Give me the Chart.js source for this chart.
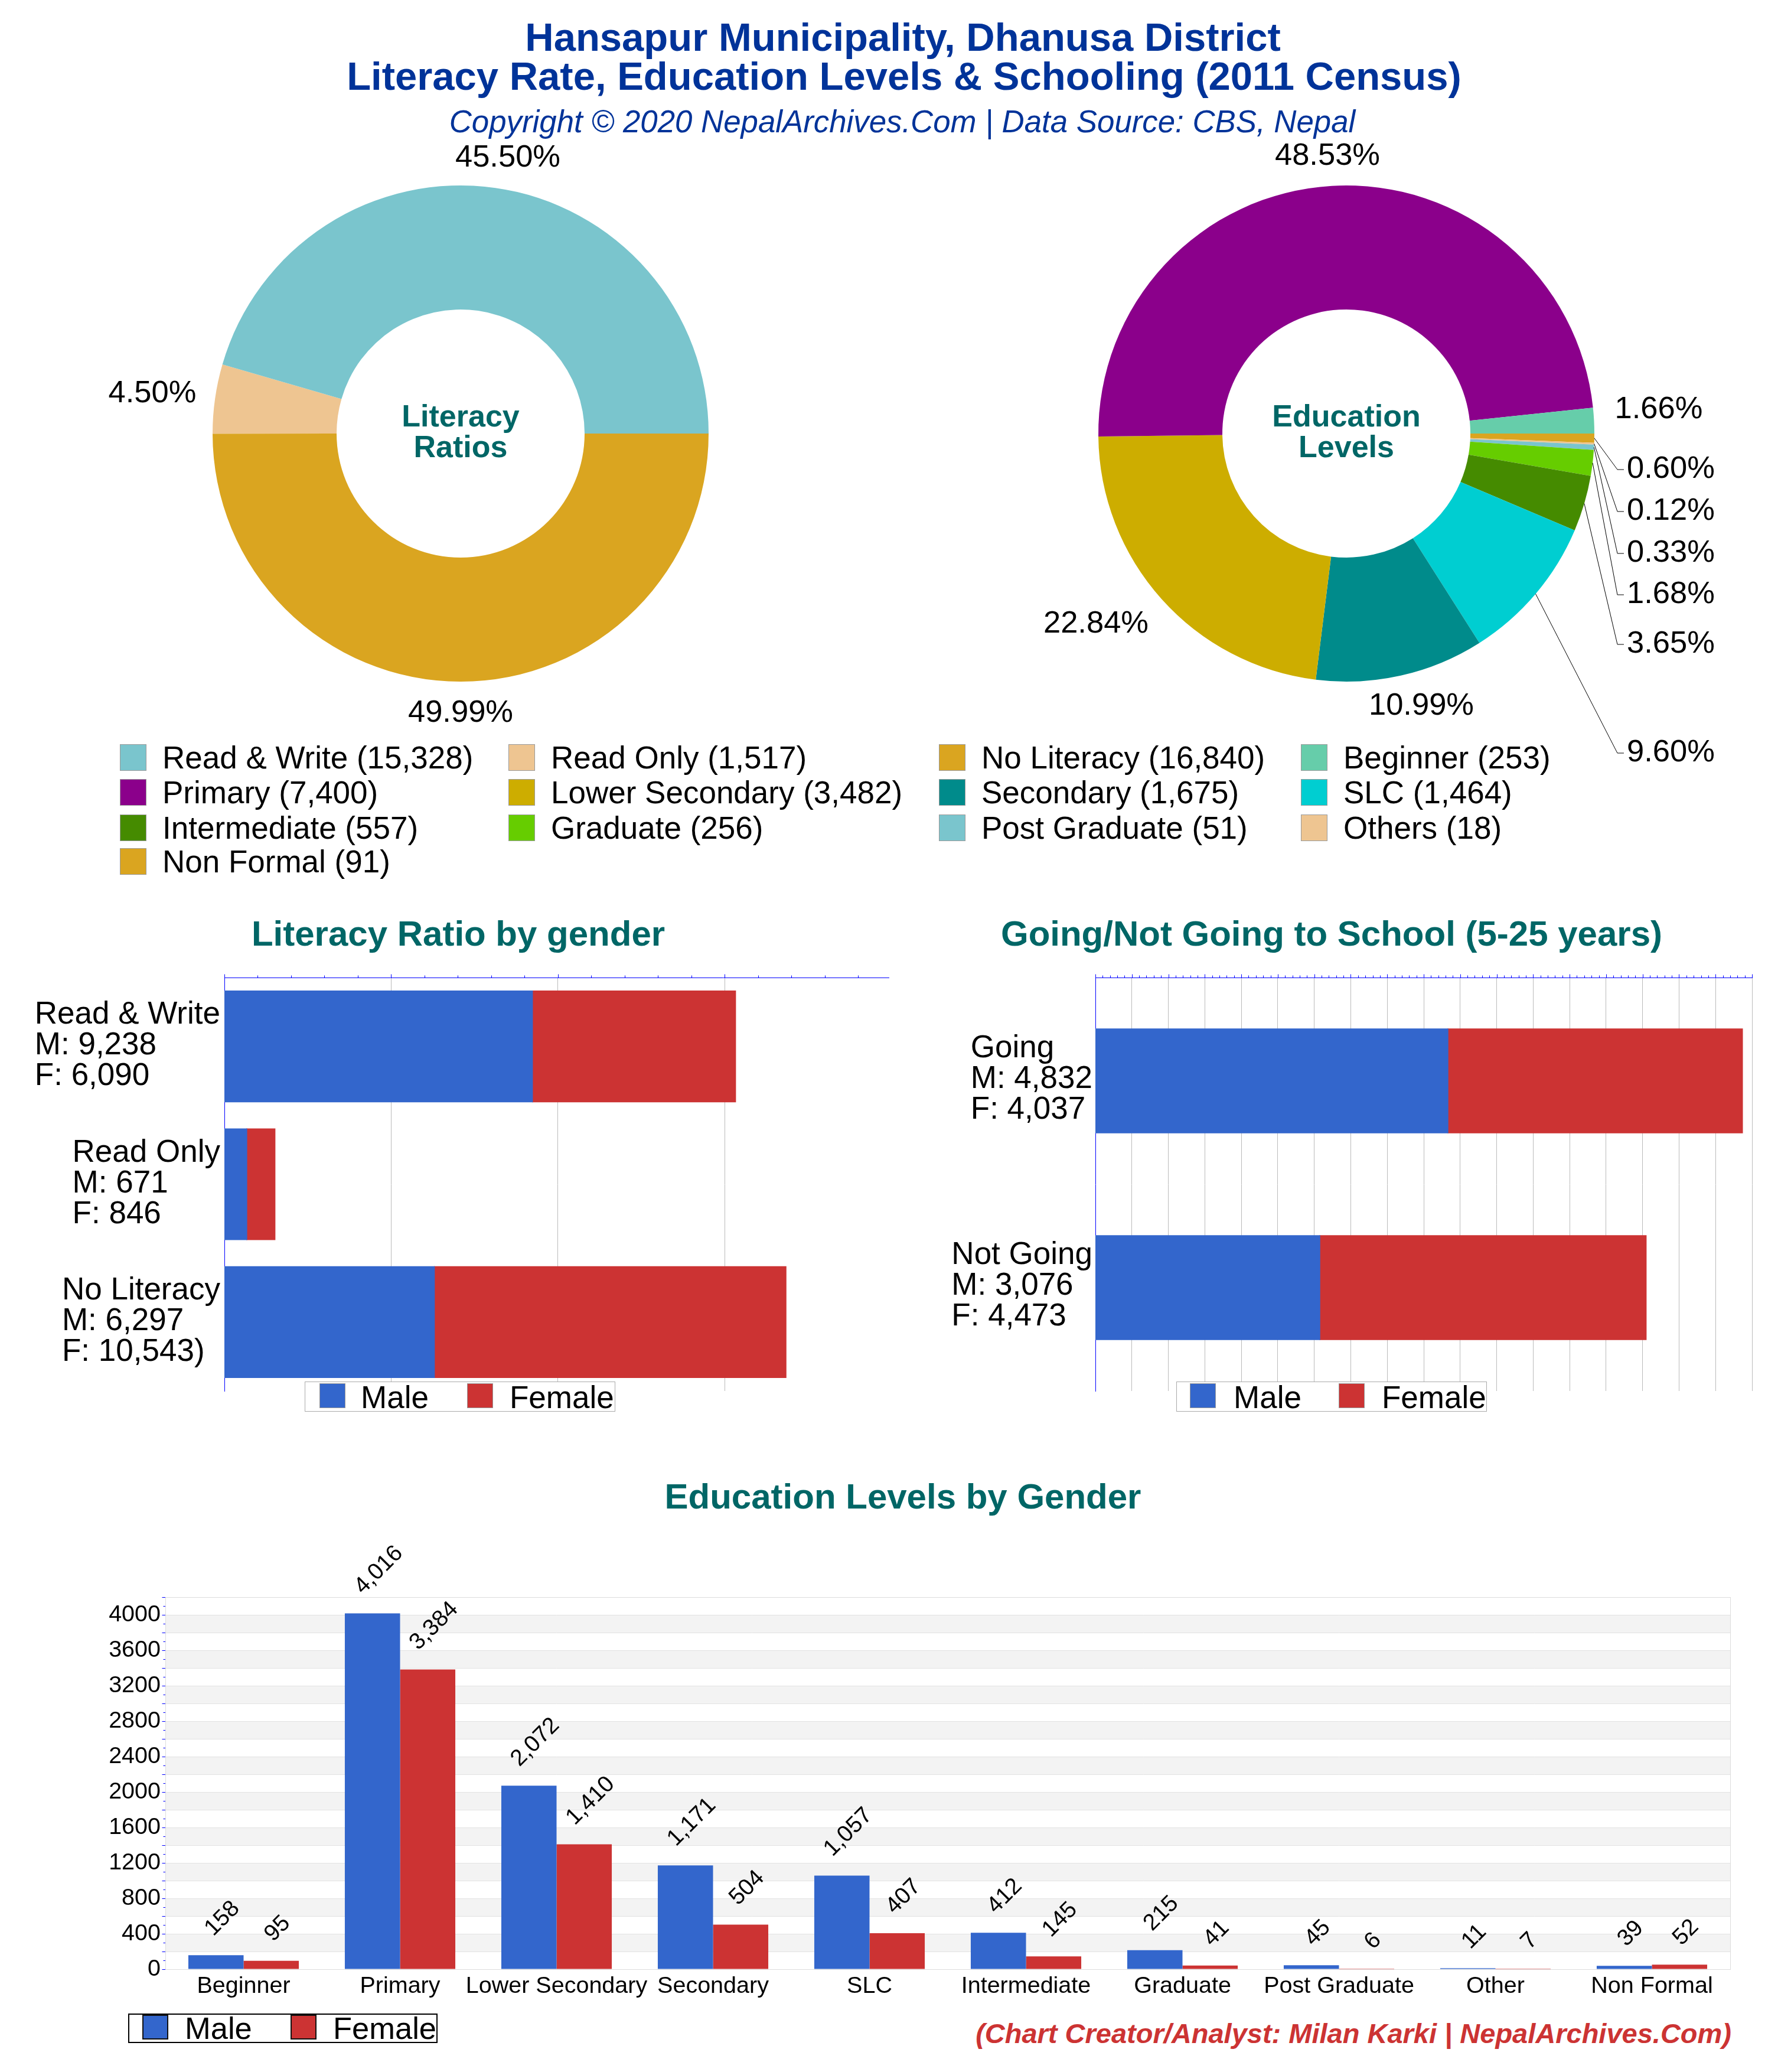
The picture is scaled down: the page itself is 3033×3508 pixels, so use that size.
<!DOCTYPE html>
<html><head><meta charset="utf-8">
<script src="https://cdn.jsdelivr.net/npm/chart.js@4/dist/chart.umd.min.js"></script>
<style>
html,body{margin:0;padding:0;background:#fff;}
#page{position:relative;width:3033px;height:3508px;overflow:hidden;background:#fff;font-family:"Liberation Sans",Arial,sans-serif;}
canvas{position:absolute;}
.t{position:absolute;white-space:pre;}
.sw{position:absolute;box-sizing:border-box;}
.box{position:absolute;box-sizing:border-box;background:#fff;}
</style></head><body><div id="page"></div>
<script>
// ---------- data ----------
const literacyCategories = ['Read & Write','Read Only','No Literacy'];
const literacyTotals = [15328,1517,16840];
const literacyPercents = ['45.50%','4.50%','49.99%'];
const literacyColors = ['#7ac5cd','#eec591','#daa520'];

const educationCategories = ['Beginner','Primary','Lower Secondary','Secondary','SLC','Intermediate','Graduate','Post Graduate','Others','Non Formal'];
const educationTotals = [253,7400,3482,1675,1464,557,256,51,18,91];
const educationPercents = ['1.66%','48.53%','22.84%','10.99%','9.60%','3.65%','1.68%','0.33%','0.12%','0.60%'];
const educationColors = ['#66cdaa','#8b008b','#cdad00','#008b8b','#00ced1','#458b00','#66cd00','#7ac5cd','#eec591','#daa520'];

const genderLiteracyLabels = [['Read & Write','M: 9,238','F: 6,090'],['Read Only','M: 671','F: 846'],['No Literacy','M: 6,297','F: 10,543)']];
const genderLiteracyMale = [9238,671,6297];
const genderLiteracyFemale = [6090,846,10543];

const schoolLabels = [['Going','M: 4,832','F: 4,037'],['Not Going','M: 3,076','F: 4,473']];
const schoolMale = [4832,3076];
const schoolFemale = [4037,4473];

const levelLabels = ['Beginner','Primary','Lower Secondary','Secondary','SLC','Intermediate','Graduate','Post Graduate','Other','Non Formal'];
const levelMale = [158,4016,2072,1171,1057,412,215,45,11,39];
const levelFemale = [95,3384,1410,504,407,145,41,6,7,52];
const valueTickLabels = [0,400,800,1200,1600,2000,2400,2800,3200,3600,4000];

// ---------- style ----------
const FONT = '"Liberation Sans",Arial,sans-serif';
const BLUE='#3366cc', RED='#cc3333', TEAL='#006666', NAVY='#003399', AXIS='#0000ff';
const page=document.getElementById('page');
Chart.defaults.font.family=FONT;
Chart.defaults.animation=false;
Chart.defaults.responsive=false;
Chart.defaults.devicePixelRatio=1;

function text(str,x,y,size,color,opts={}){
  const d=document.createElement('div');d.className='t';d.textContent=str;
  const lh=Math.round(size*1.3);
  d.style.cssText+=`left:${x}px;top:${y-lh/2}px;line-height:${lh}px;font-size:${size}px;color:${color};`+
    `font-weight:${opts.bold?'bold':'normal'};font-style:${opts.italic?'italic':'normal'};`+
    (opts.align==='center'?'transform:translateX(-50%);':opts.align==='right'?'transform:translateX(-100%);':'');
  page.appendChild(d);
}
function rect(cls,x,y,w,h,css){const d=document.createElement('div');d.className=cls;
  d.style.cssText=`left:${x}px;top:${y}px;width:${w}px;height:${h}px;${css}`;page.appendChild(d);}
function makeCanvas(x,y,w,h){const c=document.createElement('canvas');c.width=w;c.height=h;
  c.style.cssText=`left:${x}px;top:${y}px;width:${w}px;height:${h}px;`;page.appendChild(c);return c;}

// ---------- headings ----------
text('Hansapur Municipality, Dhanusa District',1529,62,67,NAVY,{bold:true,align:'center'});
text('Literacy Rate, Education Levels & Schooling (2011 Census)',1531,128,67,NAVY,{bold:true,align:'center'});
text('Copyright © 2020 NepalArchives.Com | Data Source: CBS, Nepal',1528,205,52.8,NAVY,{italic:true,align:'center'});
text('Literacy Ratio by gender',776,1581,60,TEAL,{bold:true,align:'center'});
text('Going/Not Going to School (5-25 years)',2255,1581,60,TEAL,{bold:true,align:'center'});
text('Education Levels by Gender',1529,2534,60,TEAL,{bold:true,align:'center'});
text('(Chart Creator/Analyst: Milan Karki | NepalArchives.Com)',2932,3442,47,RED,{bold:true,italic:true,align:'right'});

// ---------- pies ----------
const pieLabelFont=`52.5px ${FONT}`;
function donut(cy,w,h,left,cats,totals,colors,percents,spots,centerLines){
  const order=cats.map((_,i)=>cats.length-1-i);
  const plugin={id:'pieText',afterDatasetsDraw(chart){
    const c=chart.ctx,meta=chart.getDatasetMeta(0);
    c.save();
    c.font=`bold 52px ${FONT}`;c.fillStyle=TEAL;c.textAlign='center';c.textBaseline='middle';
    centerLines.forEach((s,i)=>c.fillText(s,w/2,h/2+(i-0.5)*52));
    c.font=pieLabelFont;c.fillStyle='#000';
    percents.forEach((p,i)=>{
      const s=spots[i],arc=meta.data[order.indexOf(i)];
      if(s.leader){
        const a=(arc.startAngle+arc.endAngle)/2,ox=arc.x+Math.cos(a)*arc.outerRadius,oy=arc.y+Math.sin(a)*arc.outerRadius;
        c.strokeStyle='#000';c.lineWidth=1;c.beginPath();c.moveTo(ox,oy);c.lineTo(2739-left,s.y-cy+h/2);c.lineTo(2750-left,s.y-cy+h/2);c.stroke();
        c.textAlign='left';c.fillText(p,2755-left,s.y-cy+h/2);
      }else{c.textAlign='center';c.fillText(p,s.x-left,s.y-cy+h/2);}
    });
    c.restore();
  }};
  new Chart(makeCanvas(left,cy-h/2,w,h),{type:'doughnut',plugins:[plugin],
    data:{labels:order.map(i=>cats[i]),datasets:[{data:order.map(i=>totals[i]),backgroundColor:order.map(i=>colors[i]),borderWidth:0}]},
    options:{rotation:90,radius:420,cutout:'50%',layout:{padding:0},plugins:{legend:{display:false},tooltip:{enabled:false}}}});
}
donut(734,1560,1200,0,literacyCategories,literacyTotals,literacyColors,literacyPercents,
  [{x:860,y:268},{x:258,y:667},{x:780,y:1208}],['Literacy','Ratios']);
donut(734,1500,1200,1530,educationCategories,educationTotals,educationColors,educationPercents,
  [{x:2809,y:694},{x:2248,y:265},{x:1856,y:1057},{x:2407,y:1196},{leader:1,y:1275},{leader:1,y:1091},{leader:1,y:1007},{leader:1,y:937},{leader:1,y:866},{leader:1,y:795}],['Education','Levels']);

// ---------- pie legend ----------
const legendCats=literacyCategories.concat(educationCategories);
const legendTotals=literacyTotals.concat(educationTotals);
const legendColors=literacyColors.concat(educationColors);
const legendCols=[203,861,1590,2203], legendRows=[1282,1341,1401,1458];
legendCats.forEach((n,i)=>{
  const x=legendCols[i%4],y=legendRows[Math.floor(i/4)];
  rect('sw',x,y-22,45,45,`background:${legendColors[i]};border:1px solid #999;`);
  text(`${n} (${legendTotals[i].toLocaleString('en-US')})`,x+72,y,53,'#000');
});

// ---------- gender legend helper ----------
function genderLegend(bx,by,bw,bh,border,sx1,sx2,sy,sh,tx1,tx2,ty,swBorder,size){
  rect('box',bx,by,bw,bh,`border:${border};`);
  rect('sw',sx1,sy,44,sh,`background:${BLUE};border:${swBorder};`);
  rect('sw',sx2,sy,44,sh,`background:${RED};border:${swBorder};`);
  text('Male',tx1,ty,size,'#000');text('Female',tx2,ty,size,'#000');
}

// ---------- horizontal stacked bars ----------
function topTicks(major){return {id:'topTicks',afterDraw(chart){
  const c=chart.ctx,s=chart.scales.x,top=chart.chartArea.top;
  c.save();c.strokeStyle=AXIS;c.lineWidth=1;
  s.ticks.forEach(t=>{const x=Math.round(s.getPixelForValue(t.value))+0.5;
    c.beginPath();c.moveTo(x,top);c.lineTo(x,top-(t.value%major===0?5.5:3.5));c.stroke();});
  c.restore();
}};}
function blockLabels(lines,gap,dy){return {id:'blockLabels',afterDraw(chart){
  const c=chart.ctx,s=chart.scales.y,right=chart.chartArea.left-gap;
  c.save();c.font=`53px ${FONT}`;c.fillStyle='#000';c.textBaseline='middle';c.textAlign='left';
  lines.forEach((ls,i)=>{
    const w=Math.max(...ls.map(l=>c.measureText(l).width)),cy=s.getPixelForValue(i)+dy;
    ls.forEach((l,k)=>c.fillText(l,right-w,cy+(k-1)*52));
  });
  c.restore();
}};}
function hbars(left,top,w,h,plot,labels,lines,male,female,max,step,major,barPct,gap,dy){
  new Chart(makeCanvas(left,top,w,h),{type:'bar',plugins:[topTicks(major),blockLabels(lines,gap,dy)],
    data:{labels:labels,datasets:[
      {label:'Male',data:male,backgroundColor:BLUE,categoryPercentage:1,barPercentage:barPct,inflateAmount:0.7},
      {label:'Female',data:female,backgroundColor:RED,categoryPercentage:1,barPercentage:barPct,inflateAmount:0.7}]},
    options:{indexAxis:'y',
      layout:{padding:{left:0,top:0,right:left+w-plot.right,bottom:top+h-plot.bottom}},
      plugins:{legend:{display:false},tooltip:{enabled:false},title:{display:false}},
      scales:{
        x:{position:'top',stacked:true,min:0,max:max,
          afterBuildTicks(s){const out=[];for(let v=0;v<=max;v+=step)out.push({value:v});s.ticks=out;},
          afterFit(s){s.height=plot.top-top;},
          ticks:{display:false,stepSize:step},
          border:{color:AXIS,width:1},
          grid:{drawTicks:false,lineWidth:1,color:ctx=>ctx.tick&&ctx.tick.value%major===0&&ctx.tick.value>0?'#bbbbbb':'transparent'}},
        y:{stacked:true,
          afterFit(s){s.width=plot.left-left;},
          ticks:{display:false},
          border:{color:AXIS,width:1},
          grid:{display:false}}
      }}});
}
const yCatLabels=genderLiteracyLabels.map(l=>l[0]);
hbars(0,1640,1560,740,{left:380,right:1505,top:1655,bottom:2355},yCatLabels,genderLiteracyLabels,genderLiteracyMale,genderLiteracyFemale,19920,1000,5000,0.805,7,-1);
hbars(1560,1640,1473,740,{left:1855,right:2967,top:1655,bottom:2355},schoolLabels.map(l=>l[0]),schoolLabels,schoolMale,schoolFemale,9000,100,500,0.503,5,-3);
genderLegend(516,2339,526,51,'1px solid #aaa',541,791,2342,42,611,863,2365,'1px solid #999',53);
genderLegend(1992,2339,526,51,'1px solid #aaa',2015,2267,2342,42,2089,2340,2365,'1px solid #999',53);

// ---------- education levels by gender ----------
const levelPlugin={id:'levelPlugin',
  beforeDraw(chart){
    const c=chart.ctx,s=chart.scales.y,a=chart.chartArea;
    c.save();c.fillStyle='#f3f3f3';
    for(let v=200;v<4200;v+=400){const y1=s.getPixelForValue(v+200),y0=s.getPixelForValue(v);c.fillRect(a.left,y1,a.right-a.left,y0-y1);}
    c.restore();
  },
  afterDatasetsDraw(chart){
    const c=chart.ctx,s=chart.scales.y,a=chart.chartArea;
    c.save();
    c.strokeStyle='#dddddd';c.lineWidth=1;c.strokeRect(Math.round(a.left)+.5,Math.round(a.top)+.5,Math.round(a.right-a.left),Math.round(a.bottom-a.top));
    c.strokeStyle=AXIS;
    s.ticks.forEach(t=>{const y=Math.round(s.getPixelForValue(t.value))+.5;c.beginPath();c.moveTo(a.left,y);c.lineTo(a.left-(t.value%200===0?5.5:3.5),y);c.stroke();});
    c.font=`39px ${FONT}`;c.fillStyle='#000';c.textAlign='center';c.textBaseline='middle';
    chart.data.datasets.forEach((ds,di)=>{
      chart.getDatasetMeta(di).data.forEach((bar,i)=>{
        const str=ds.data[i].toLocaleString('en-US'),w=c.measureText(str).width;
        const half=(w+28)*0.3535;
        c.save();c.translate(bar.x+11,bar.y-29-half);c.rotate(-Math.PI/4);c.fillText(str,0,0);c.restore();
      });
    });
    c.restore();
  }};
new Chart(makeCanvas(0,2590,3033,810),{type:'bar',plugins:[levelPlugin],
  data:{labels:levelLabels,datasets:[
    {label:'Male',data:levelMale,backgroundColor:BLUE,categoryPercentage:0.706,barPercentage:1},
    {label:'Female',data:levelFemale,backgroundColor:RED,categoryPercentage:0.706,barPercentage:1}]},
  options:{
    layout:{padding:{left:0,top:114,right:103,bottom:0}},
    plugins:{legend:{display:false},tooltip:{enabled:false}},
    scales:{
      x:{afterFit(s){s.height=66;},
        grid:{display:false},border:{display:false},
        ticks:{color:'#000',font:{size:39.5},maxRotation:0,minRotation:0,autoSkip:false,padding:-3}},
      y:{min:0,max:4200,afterFit(s){s.width=280;},
        border:{display:false},
        grid:{drawTicks:false,lineWidth:1,color:ctx=>ctx.tick&&ctx.tick.value%200===0?'#e2e2e2':'transparent'},
        ticks:{stepSize:100,autoSkip:false,color:'#000',font:{size:39.5},padding:8,
          callback:v=>valueTickLabels.includes(v)?String(v):''}}
    }}});
genderLegend(217,3409,524,50,'2px solid #000',241,492,3411,42,313,564,3434,'2px solid #111',52.5);
</script></body></html>
